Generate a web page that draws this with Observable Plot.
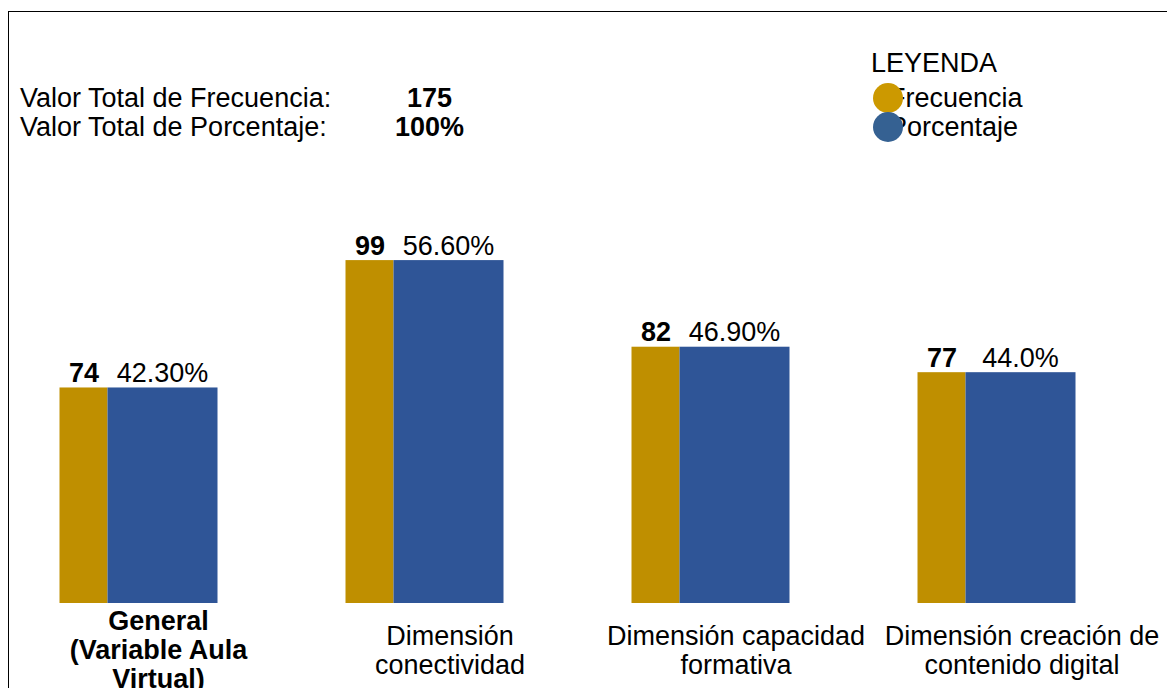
<!DOCTYPE html>
<html>
<head>
<meta charset="utf-8">
<script src="https://cdn.jsdelivr.net/npm/d3@7"></script>
<script src="https://cdn.jsdelivr.net/npm/@observablehq/plot@0.6"></script>
<style>
  html, body { margin: 0; padding: 0; background: #fff; overflow: hidden; }
  #wrap { position: relative; width: 1167px; height: 688px; font-family: "Liberation Sans", Arial, sans-serif; color: #000; }
  .t { position: absolute; font-size: 27px; line-height: 27px; white-space: nowrap; }
  .dot { position: absolute; width: 30px; height: 30px; border-radius: 50%; }
  #frameTop { position: absolute; left: 9px; top: 11px; width: 1158px; height: 0; border-top: 1.5px solid #000; }
  #frameLeft { position: absolute; left: 8px; top: 11px; width: 0; height: 677px; border-left: 1.5px solid #000; }
  #chart { position: absolute; left: 0; top: 0; }
</style>
</head>
<body>
<div id="wrap">
  <div id="chart"></div>
  <div id="frameTop"></div>
  <div id="frameLeft"></div>
  <div class="t" style="left:20px; top:85px;">Valor Total de Frecuencia:</div>
  <div class="t" style="left:20px; top:114px;">Valor Total de Porcentaje:</div>
  <div class="t" id="totFreq" style="left:369.5px; top:85px; width:120px; text-align:center; font-weight:bold;"></div>
  <div class="t" id="totPct" style="left:369.5px; top:114px; width:120px; text-align:center; font-weight:bold;"></div>
  <div class="t" id="legTitle" style="left:871px; top:50px;"></div>
  <div class="t" id="leg0" style="left:889px; top:85px;"></div>
  <div class="t" id="leg1" style="left:889px; top:114px;"></div>
  <div class="dot" id="dot0" style="left:873px; top:83px;"></div>
  <div class="dot" id="dot1" style="left:873px; top:112px;"></div>
</div>
<script>
// ---- data ----
const categorias = [
  "General\n(Variable Aula\nVirtual)",
  "Dimensión\nconectividad",
  "Dimensión capacidad\nformativa",
  "Dimensión creación de\ncontenido digital"
];
const frecuencias = [74, 99, 82, 77];
const porcentajes = ["42.30%", "56.60%", "46.90%", "44.0%"];
const series = ["Frecuencia", "Porcentaje"];
const totalFrecuencia = "175";
const totalPorcentaje = "100%";
const tituloLeyenda = "LEYENDA";

const colorBarras = ["#BF8F00", "#2F5597"];
const colorLeyenda = ["#CC9900", "#356192"];

const filas = categorias.map((c, i) => ({
  categoria: c,
  frecuencia: frecuencias[i],
  porcentaje: porcentajes[i]
}));

// ---- header / legend text ----
document.getElementById("totFreq").textContent = totalFrecuencia;
document.getElementById("totPct").textContent = totalPorcentaje;
document.getElementById("legTitle").textContent = tituloLeyenda;
document.getElementById("leg0").textContent = series[0];
document.getElementById("leg1").textContent = series[1];
document.getElementById("dot0").style.background = colorLeyenda[0];
document.getElementById("dot1").style.background = colorLeyenda[1];

// ---- chart ----
const font = "Liberation Sans, Arial, sans-serif";
const chart = Plot.plot({
  width: 1167,
  height: 688,
  marginLeft: 57.5,
  marginRight: 88.5,
  marginTop: 255,
  marginBottom: 85,
  style: { fontFamily: font, background: "transparent", overflow: "visible" },
  fx: { domain: categorias, paddingInner: 0.4425, paddingOuter: 0, axis: null },
  x: { domain: series, padding: 0, axis: null },
  y: { domain: [31.7, 100], clamp: true, axis: null },
  marks: [
    Plot.barY(filas, { fx: "categoria", x: () => series[0], y: "frecuencia", fill: colorBarras[0], insetLeft: 0, insetRight: 31 }),
    Plot.barY(filas, { fx: "categoria", x: () => series[1], y: "frecuencia", fill: colorBarras[1], insetLeft: -31, insetRight: 0 }),
    Plot.text(filas, { fx: "categoria", x: () => series[0], y: "frecuencia", text: d => String(d.frecuencia), dx: -15.5, dy: -6, lineAnchor: "bottom", fontSize: 27, fontWeight: "bold", fill: "#000" }),
    Plot.text(filas, { fx: "categoria", x: () => series[1], y: "frecuencia", text: "porcentaje", dx: -16, dy: -6, lineAnchor: "bottom", fontSize: 27, fill: "#000" }),
    Plot.text(filas.filter((d, i) => i === 0), { fx: "categoria", text: "categoria", frameAnchor: "bottom", dy: 46, dx: 19.5, lineAnchor: "middle", lineHeight: 1.075, fontSize: 27, fontWeight: "bold", fill: "#000" }),
    Plot.text(filas.filter((d, i) => i > 0), { fx: "categoria", text: "categoria", frameAnchor: "bottom", dy: 46.5, dx: 25, lineAnchor: "middle", lineHeight: 1.075, fontSize: 27, fill: "#000" })
  ]
});
document.getElementById("chart").appendChild(chart);
</script>
</body>
</html>
